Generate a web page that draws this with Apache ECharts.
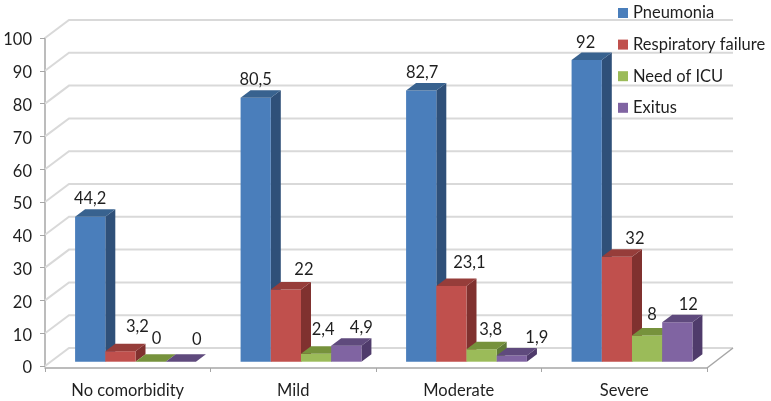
<!DOCTYPE html>
<html>
<head>
<meta charset="utf-8">
<style>html,body{margin:0;padding:0;background:#fff}#c{width:771px;height:401px}</style>
<script src="https://cdn.jsdelivr.net/npm/echarts@6/dist/echarts.min.js"></script>
</head>
<body>
<div id="c"></div>
<script>
var categories = ['No comorbidity', 'Mild', 'Moderate', 'Severe'];
var pneumonia = [44.2, 80.5, 82.7, 92];
var respiratoryFailure = [3.2, 22, 23.1, 32];
var needOfICU = [0, 2.4, 3.8, 8];
var exitus = [0, 4.9, 1.9, 12];
var yTicks = [0, 10, 20, 30, 40, 50, 60, 70, 80, 90, 100];

var seriesDefs = [
  {name: 'Pneumonia', values: pneumonia, front: '#4A7EBB', top: '#38628F', side: '#2F5079',
   shift: [[0, -18], [0, -18], [1, -18], [-1, -17]]},
  {name: 'Respiratory failure', values: respiratoryFailure, front: '#C0504D', top: '#963D3A', side: '#80312F',
   shift: [[17, -25], [18, -20], [18, -23], [18, -18]]},
  {name: 'Need of ICU', values: needOfICU, front: '#9BBB59', top: '#76923C', side: '#5F7A36',
   shift: [[6, -23], [7, -24], [9, -20], [5, -21]]},
  {name: 'Exitus', values: exitus, front: '#8064A2', top: '#5F4A7D', side: '#4F3B6B',
   shift: [[16, -22], [15, -18], [25, -18], [11, -18]]}
];

var WALL_DX = 24, WALL_DY = 18, BAR_DX = 10, BAR_DY = 7.5, BAR_INSET_Y = 4.3, BAR_SHIFT_X = 7.75, BAR_RATIO = 0.1825;
var FONT = '16.5px Lato, Carlito, sans-serif';

function renderWall(params, api) {
  var v = api.value(1);
  var cs = params.coordSys;
  var y = api.coord([0, v])[1];
  var left = cs.x, right = cs.x + cs.width;
  var style = {stroke: '#D9D9D9', lineWidth: 2, fill: null};
  var kids = [
    {type: 'polyline', shape: {points: [[left, y], [left + WALL_DX, y - WALL_DY], [right + WALL_DX + 2, y - WALL_DY]]}, style: style}
  ];
  if (v === 0) {
    kids.push({type: 'line', shape: {x1: right, y1: y + 2, x2: right + WALL_DX + 2, y2: y - WALL_DY},
      style: {stroke: '#A6A6A6', lineWidth: 1.5}});
  }
  return {type: 'group', children: kids};
}

function makeBarRenderer(def, idx) {
  return function (params, api) {
    var cat = api.value(0), val = api.value(1);
    var band = api.size([1, 0])[0];
    var w = band * BAR_RATIO;
    var c = api.coord([cat, val]);
    var c0 = api.coord([cat, 0]);
    var x0 = c[0] + BAR_SHIFT_X + (idx - 2) * w;
    var x1 = x0 + w;
    var base = c0[1] - BAR_INSET_Y;
    var top = c[1] - BAR_INSET_Y;
    var s = def.shift[params.dataIndex];
    var kids = [];
    if (val > 0) {
      kids.push({type: 'polygon', shape: {points: [[x1, top], [x1 + BAR_DX, top - BAR_DY], [x1 + BAR_DX, base - BAR_DY], [x1, base]]}, style: {fill: def.side}});
      kids.push({type: 'rect', shape: {x: x0, y: top, width: w, height: base - top}, style: {fill: def.front}});
    }
    kids.push({type: 'polygon', shape: {points: [[x0, top], [x1, top], [x1 + BAR_DX, top - BAR_DY], [x0 + BAR_DX, top - BAR_DY]]}, style: {fill: def.top}});
    kids.push({type: 'text', z2: 10, style: {text: String(val).replace('.', ','), x: (x0 + x1) / 2 + s[0], y: top + s[1],
      align: 'center', verticalAlign: 'middle', font: FONT, fill: '#1F1F1F'}});
    return {type: 'group', children: kids};
  };
}

var series = [{
  type: 'custom', name: 'walls', silent: true, z: 1,
  renderItem: renderWall,
  data: yTicks.map(function (t) { return [0, t]; })
}].concat(seriesDefs.map(function (def, i) {
  return {
    type: 'custom', name: def.name, z: 2 + i,
    itemStyle: {color: def.front},
    renderItem: makeBarRenderer(def, i),
    data: def.values.map(function (v, k) { return [k, v]; })
  };
}));

var chart = echarts.init(document.getElementById('c'), null, {renderer: 'canvas'});
chart.setOption({
  animation: false,
  backgroundColor: '#fff',
  legend: {
    data: seriesDefs.map(function (d) { return d.name; }),
    orient: 'vertical', left: 613, top: -1, itemWidth: 10, itemHeight: 10, itemGap: 13.6, icon: 'rect',
    selectedMode: false,
    textStyle: {fontFamily: 'Lato, sans-serif', fontSize: 16.5, color: '#1F1F1F', lineHeight: 18}
  },
  grid: {left: 45, right: 64, top: 38, bottom: 35, containLabel: false},
  xAxis: {
    type: 'category', data: categories, offset: 2,
    axisLine: {show: true, onZero: false, lineStyle: {color: '#A6A6A6', width: 1.5}},
    axisTick: {show: true, length: 4, lineStyle: {color: '#A6A6A6'}},
    axisLabel: {margin: 14, fontFamily: 'Lato, sans-serif', fontSize: 16.5, color: '#1F1F1F'}
  },
  yAxis: {
    type: 'value', min: 0, max: 100, interval: 10,
    axisLine: {show: true, lineStyle: {color: '#A6A6A6', width: 1.5}},
    axisTick: {show: true, length: 5, lineStyle: {color: '#A6A6A6'}},
    axisLabel: {margin: 13, formatter: '{n|{value}}',
      rich: {n: {fontFamily: 'Lato, sans-serif', fontSize: 16.5, color: '#1F1F1F', padding: [4, 0, 0, 0]}}},
    splitLine: {show: false}
  },
  series: series
});
</script>
</body>
</html>
